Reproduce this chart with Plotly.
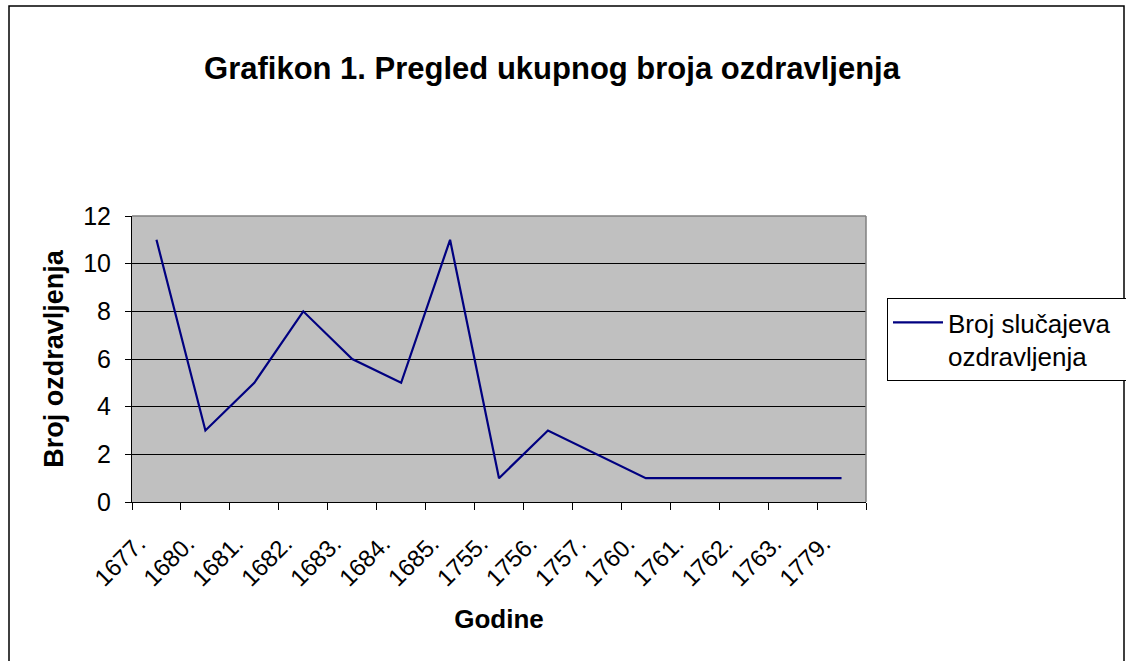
import plotly.graph_objects as go

years = ["1677.", "1680.", "1681.", "1682.", "1683.", "1684.", "1685.", "1755.",
         "1756.", "1757.", "1760.", "1761.", "1762.", "1763.", "1779."]
cases = [11, 3, 5, 8, 6, 5, 11, 1, 3, 2, 1, 1, 1, 1, 1]
series_name = "Broj slučajeva<br>ozdravljenja"
y_ticks = [0, 2, 4, 6, 8, 10, 12]

W, H = 1126, 661
L, R, T, B = 132, 260, 216, 159
pw, ph = W - L - R, H - T - B

def px(x):
    return (x - L) / pw

def py(y):
    return (H - B - y) / ph

FONT = "Liberation Sans, Arial, sans-serif"

fig = go.Figure()
fig.add_trace(go.Scatter(
    x=years, y=cases, mode="lines", name=series_name,
    line=dict(color="#000080", width=2.2),
    showlegend=True,
))

fig.update_layout(
    width=W, height=H,
    margin=dict(l=L, r=R, t=T, b=B, autoexpand=False),
    paper_bgcolor="white",
    plot_bgcolor="#C0C0C0",
    font=dict(family=FONT, color="black", size=24),
    title=dict(
        text="<b>Grafikon 1. Pregled ukupnog broja ozdravljenja</b>",
        font=dict(size=31, family=FONT, color="black"),
        x=552 / W, xref="container", xanchor="center",
        y=1 - 68 / H, yref="container", yanchor="middle",
    ),
    showlegend=True,
    legend=dict(
        x=px(887), xanchor="left", y=py(298), yanchor="top",
        orientation="h",
        bordercolor="black", borderwidth=1, bgcolor="white",
        font=dict(size=26, family=FONT, color="black"),
        valign="top", entrywidth=245, itemwidth=50,
    ),
)

fig.update_xaxes(
    type="category", range=[-0.5, len(years) - 0.5],
    showline=True, linecolor="black", linewidth=1,
    ticks="outside", tickson="boundaries", ticklen=7, tickcolor="black",
    tickangle=-45, ticklabelstandoff=17, ticklabelshift=-18,
    tickfont=dict(size=24, family=FONT, color="black"),
    showgrid=False, zeroline=False,
    title=dict(text="<b>Godine</b>", font=dict(size=26, family=FONT, color="black"), standoff=19),
    automargin=False,
)
fig.update_yaxes(
    range=[0, 12], tickvals=y_ticks,
    showline=True, linecolor="black", linewidth=1,
    ticks="outside", ticklen=6, tickcolor="black",
    ticklabelstandoff=9,
    tickfont=dict(size=25, family=FONT, color="black"),
    showgrid=True, gridcolor="black", gridwidth=1, zeroline=False,
    title=dict(text="<b>Broj ozdravljenja</b>", font=dict(size=27, family=FONT, color="black"), standoff=11),
    automargin=False,
)

# plot-area top and right border (gray)
fig.add_shape(type="line", xref="paper", yref="paper", x0=0, x1=1, y0=1, y1=1,
              line=dict(color="#808080", width=1.5), layer="above")
fig.add_shape(type="line", xref="paper", yref="paper", x0=1, x1=1, y0=0, y1=1,
              line=dict(color="#808080", width=1.5), layer="above")
# outer chart border
fig.add_shape(type="rect", xref="paper", yref="paper",
              x0=px(9), x1=px(1124), y0=py(675), y1=py(6),
              line=dict(color="black", width=1.5), fillcolor="rgba(0,0,0,0)", layer="below")

fig.write_html("out.html", config={"displayModeBar": False},
               post_script="document.body.style.margin='0';document.body.style.padding='0';")
